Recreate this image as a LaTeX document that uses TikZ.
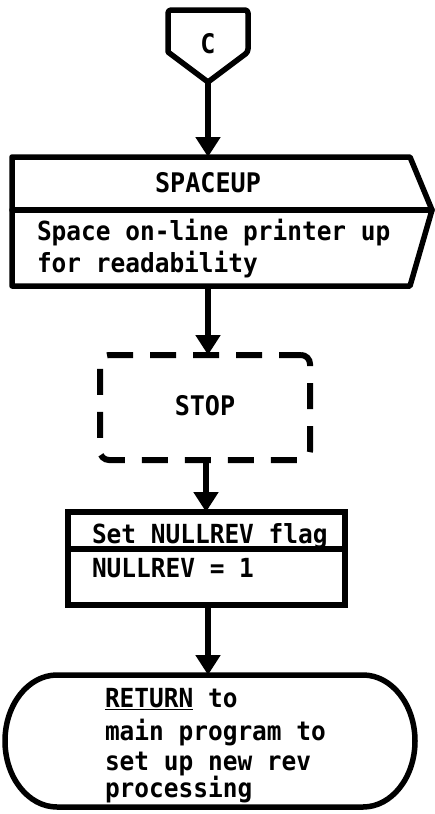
\documentclass[tikz,border=0pt]{standalone}
\usepackage{fontspec}
\newfontfamily\flowfont[FakeStretch=0.93]{DejaVu Sans Mono}
\usetikzlibrary{arrows.meta}

\tikzset{
  flowline/.style={line width=5.5pt, line join=round, line cap=round},
  flowarrow/.style={flowline, line cap=butt, -{Triangle[width=24pt,length=20pt]}},
  txt/.style={inner sep=0pt, outer sep=0pt, font=\flowfont\bfseries\fontsize{26.3}{30}\selectfont},
  title/.style={txt, font=\flowfont\bfseries\fontsize{27}{30}\selectfont},
  frame/.style={inner sep=0pt, outer sep=0pt, draw=none},
  stopbox/.style={draw, line width=6pt, rounded corners=9pt,
    dash pattern=on 26pt off 17pt, dash phase=4pt, inner sep=0pt, outer sep=0pt}
}

\begin{document}
\begin{tikzpicture}[x=1pt,y=1pt]
  \useasboundingbox (0,0) rectangle (434,-814);

  % off-page connector C
  \draw[flowline, rounded corners=3pt] (168,-10) -- (248,-10) -- (248,-52)
        [sharp corners] -- (208,-82) -- (168,-52) [rounded corners=3pt] -- cycle;
  \node[title] (cLabel) at (208,-44) {C};
  \coordinate (connTip) at (208,-82);

  % SPACEUP module box with pointed right side
  \node[frame, minimum width=398pt, minimum height=129pt] (spaceup) at (211,-221.5) {};
  \draw[flowline] (12,-157) -- (410,-157) -- (432,-210) -- (410,-286) -- (12,-286) -- cycle;
  \draw[flowline] (12,-210) -- (432,-210);
  \node[title, anchor=base] (spaceupName) at (208,-192) {SPACEUP};
  \node[txt, anchor=base west] (spaceupL1) at (37,-240) {Space on-line printer up};
  \node[txt, anchor=base west] (spaceupL2) at (37,-272) {for readability};

  % dashed STOP box
  \node[stopbox, minimum width=210pt, minimum height=105pt] (stop) at (205,-407.5) {};
  \node[title, anchor=base] (stopText) at (205,-415) {STOP};

  % NULLREV process box
  \node[frame, draw, line width=5.5pt, minimum width=277pt, minimum height=93pt] (nullrev) at (206.5,-558.5) {};
  \draw[flowline] (nullrev.west |- 0,-549) -- (nullrev.east |- 0,-549);
  \node[txt, anchor=base west] (nullrevL1) at (92,-543) {Set NULLREV flag};
  \node[txt, anchor=base west] (nullrevL2) at (92,-577) {NULLREV = 1};

  % RETURN terminal
  \node[frame, minimum width=410pt, minimum height=132pt] (ret) at (210,-741) {};
  \draw[flowline] (57,-675) -- (363,-675)
        arc[start angle=90, end angle=-90, x radius=52pt, y radius=66pt]
        -- (57,-807)
        arc[start angle=270, end angle=90, x radius=52pt, y radius=66pt] -- cycle;
  \node[txt, anchor=base west] (retL1) at (105,-707) {\underline{RETURN} to};
  \node[txt, anchor=base west] (retL2) at (105,-740) {main program to};
  \node[txt, anchor=base west] (retL3) at (105,-770) {set up new rev};
  \node[txt, anchor=base west] (retL4) at (105,-797) {processing};

  % flow connectors
  \draw[flowarrow] (connTip) -- (connTip |- spaceup.north);
  \draw[flowarrow] (spaceup.south -| 208,0) -- (stop.north -| 208,0);
  \draw[flowarrow] (stop.south -| 206,0) -- (nullrev.north -| 206,0);
  \draw[flowarrow] (nullrev.south -| 208,0) -- (ret.north -| 208,0);
\end{tikzpicture}
\end{document}
